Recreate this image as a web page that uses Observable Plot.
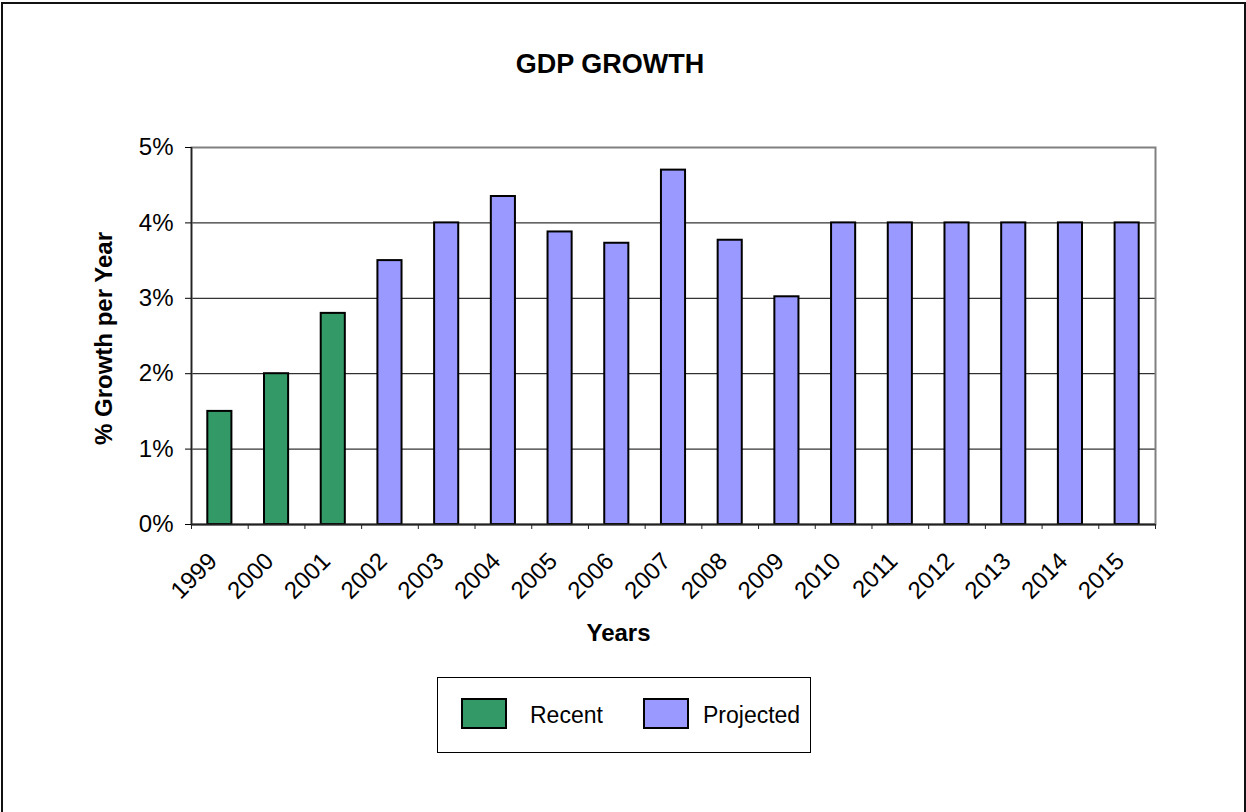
<!DOCTYPE html>
<html>
<head>
<meta charset="utf-8">
<script src="https://cdn.jsdelivr.net/npm/d3@7"></script>
<script src="https://cdn.jsdelivr.net/npm/@observablehq/plot@0.6"></script>
<style>
  html, body { margin: 0; padding: 0; background: #fff; }
  #wrap { position: relative; width: 1246px; height: 812px; overflow: hidden; font-family: "Liberation Sans", Arial, sans-serif; }
  #border { position: absolute; left: 1px; top: 2px; width: 1245px; height: 830px; box-sizing: border-box; border: 2px solid #111; pointer-events: none; }
  #chart { position: absolute; left: 0; top: 0; }
  #legend { position: absolute; left: 437px; top: 677px; width: 374px; height: 76px; box-sizing: border-box; border: 1px solid #000; background: #fff; }
  .sw { position: absolute; top: 20px; width: 46px; height: 31px; box-sizing: border-box; border: 2px solid #000; }
  .lt { position: absolute; top: 24px; font-size: 23px; line-height: 26px; color: #000; white-space: nowrap; }
</style>
</head>
<body>
<div id="wrap">
  <div id="chart"></div>
  <div id="legend"></div>
  <div id="border"></div>
</div>
<script>
// ---- data ----
const years = ["1999","2000","2001","2002","2003","2004","2005","2006","2007","2008","2009","2010","2011","2012","2013","2014","2015"];
const growth = [1.5, 2.0, 2.8, 3.5, 4.0, 4.35, 3.88, 3.73, 4.7, 3.77, 3.02, 4.0, 4.0, 4.0, 4.0, 4.0, 4.0];
const series = ["Recent","Recent","Recent","Projected","Projected","Projected","Projected","Projected","Projected","Projected","Projected","Projected","Projected","Projected","Projected","Projected","Projected"];
const seriesNames = ["Recent", "Projected"];
const seriesColors = ["#339966", "#9999FF"];
const yTicks = [0, 1, 2, 3, 4, 5];
const titleText = "GDP GROWTH";
const xTitle = "Years";
const yTitle = "% Growth per Year";

const data = years.map((y, i) => ({year: y, value: growth[i], series: series[i]}));

const W = 1246, H = 812;
const mL = 191, mR = 91, mT = 147, mB = 288;
const bw = (W - mL - mR) / years.length;

const chart = Plot.plot({
  width: W,
  height: H,
  marginLeft: mL,
  marginRight: mR,
  marginTop: mT,
  marginBottom: mB,
  style: {fontFamily: "'Liberation Sans', Arial, sans-serif", color: "#000", background: "transparent", overflow: "visible"},
  x: {domain: years, padding: 0, round: false, label: null},
  y: {domain: [0, 5], label: null},
  color: {domain: seriesNames, range: seriesColors},
  marks: [
    Plot.ruleY([1, 2, 3, 4], {stroke: "#000", strokeWidth: 1}),
    Plot.frame({stroke: "#808080", strokeWidth: 2}),
    Plot.barY(data, {x: "year", y: "value", fill: "series", stroke: "#000", strokeWidth: 2, insetLeft: 16.3, insetRight: 16.3}),
    Plot.ruleY([0], {stroke: "#222", strokeWidth: 2}),
    Plot.ruleX([years[0]], {dx: -bw / 2, stroke: "#222", strokeWidth: 1.5}),
    Plot.axisY({ticks: yTicks, tickSize: 6, tickPadding: 12, tickFormat: d => d + "%", fontSize: 24, label: null, stroke: "#000", color: "#000"}),
    Plot.axisX({tickSize: 5, tickFormat: () => "", dx: -bw / 2, label: null, stroke: "#222"}),
    Plot.axisX([years[years.length - 1]], {tickSize: 5, tickFormat: () => "", dx: bw / 2, label: null, stroke: "#222"}),
    Plot.text(years, {x: d => d, frameAnchor: "bottom", dx: -1.5, dy: 38, rotate: -45, textAnchor: "end", lineAnchor: "bottom", fontSize: 24, fill: "#000"}),
    Plot.text([xTitle], {frameAnchor: "bottom", dx: -55, dy: 116, textAnchor: "middle", lineAnchor: "bottom", fontSize: 24, fontWeight: "bold", fill: "#000"}),
    Plot.text([yTitle], {frameAnchor: "left", dx: -87.5, dy: 2.5, rotate: -90, textAnchor: "middle", lineAnchor: "middle", fontSize: 24, fontWeight: "bold", fill: "#000"}),
    Plot.text([titleText], {frameAnchor: "top", dx: -63.5, dy: -74.7, textAnchor: "middle", lineAnchor: "bottom", fontSize: 27, fontWeight: "bold", fill: "#000"})
  ]
});
document.getElementById("chart").appendChild(chart);

// ---- legend ----
const legend = document.getElementById("legend");
const swLeft = [23, 205];
const txLeft = [92, 265];
seriesNames.forEach((name, i) => {
  const sw = document.createElement("div");
  sw.className = "sw";
  sw.style.left = swLeft[i] + "px";
  sw.style.background = seriesColors[i];
  legend.appendChild(sw);
  const t = document.createElement("div");
  t.className = "lt";
  t.style.left = txLeft[i] + "px";
  t.textContent = name;
  legend.appendChild(t);
});
</script>
</body>
</html>
